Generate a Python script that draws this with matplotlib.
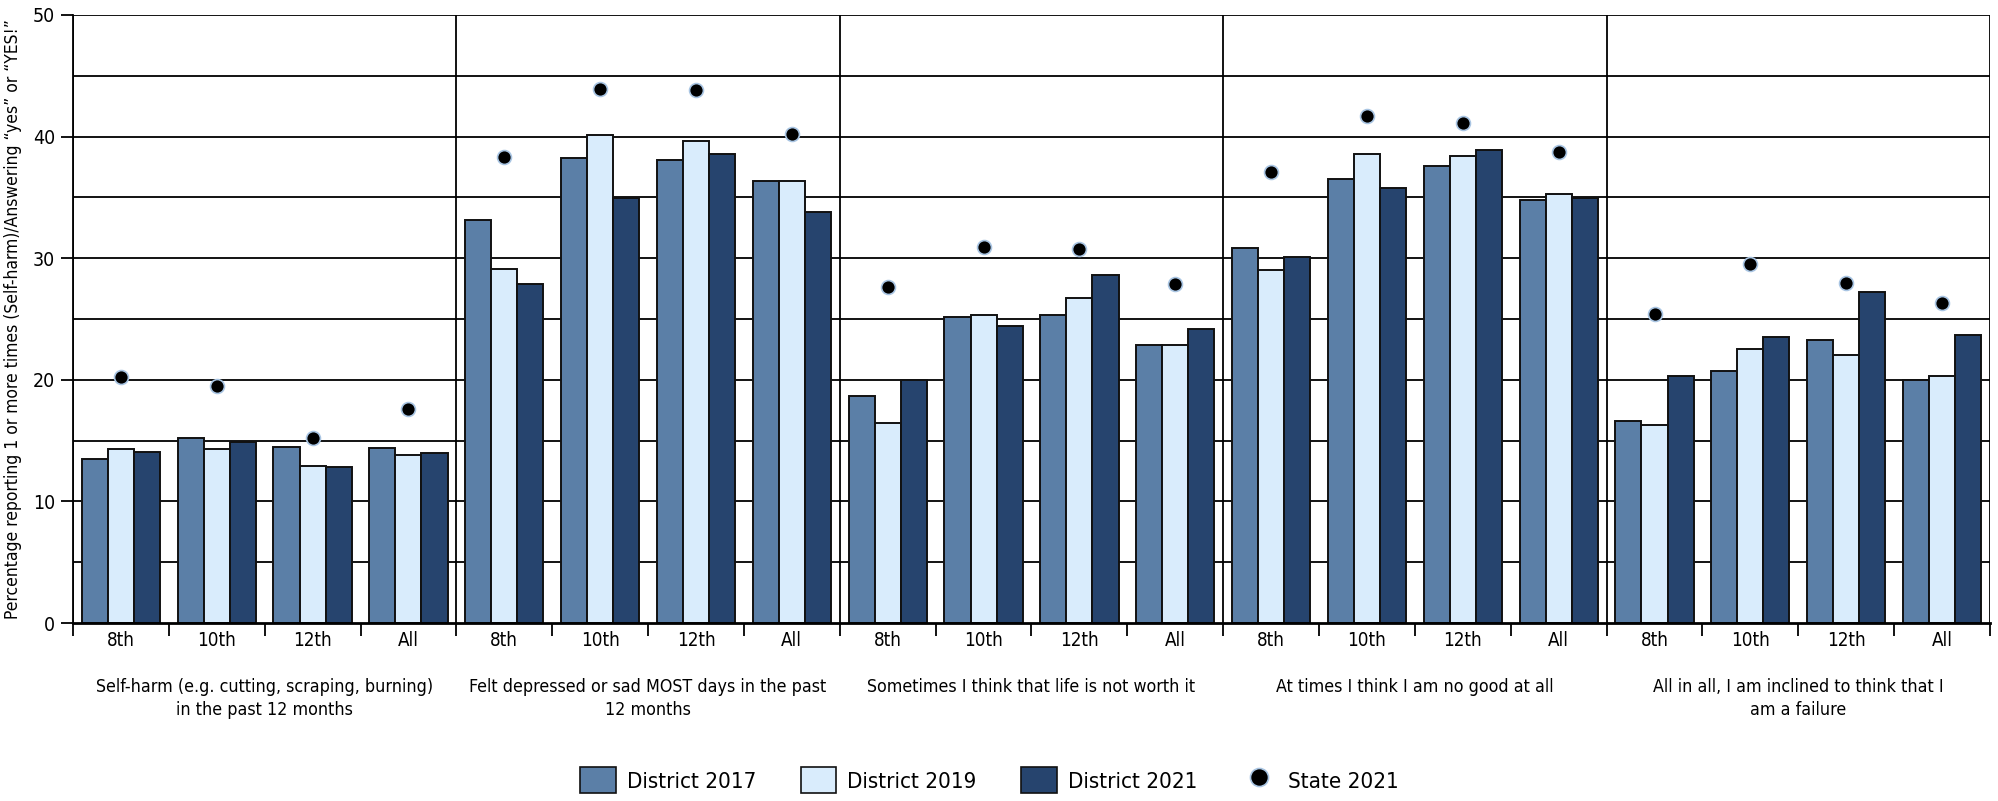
import matplotlib.pyplot as plt
from matplotlib.patches import Patch
from matplotlib.lines import Line2D
import numpy as np

# ==== Dados ====
grupos = [
    "Self-harm (e.g. cutting, scraping, burning)\nin the past 12 months",
    "Felt depressed or sad MOST days in the past\n12 months",
    "Sometimes I think that life is not worth it",
    "At times I think I am no good at all",
    "All in all, I am inclined to think that I\nam a failure",
]
series_anos = ["8th", "10th", "12th", "All"]

district_2017 = [13.5, 15.2, 14.5, 14.4,
                 33.1, 38.2, 38.05, 36.35,
                 18.7, 25.2, 25.3, 22.9,
                 30.8, 36.5, 37.6, 34.8,
                 16.65, 20.7, 23.25, 20.0]
district_2019 = [14.3, 14.3, 12.9, 13.8,
                 29.1, 40.1, 39.6, 36.35,
                 16.45, 25.3, 26.75, 22.9,
                 29.0, 38.6, 38.4, 35.3,
                 16.3, 22.5, 22.0, 20.3]
district_2021 = [14.05, 14.9, 12.8, 13.95,
                 27.9, 34.95, 38.6, 33.8,
                 20.0, 24.4, 28.6, 24.2,
                 30.1, 35.8, 38.9, 34.95,
                 20.3, 23.55, 27.2, 23.7]
state_2021 = [20.2, 19.5, 15.2, 17.6,
              38.3, 43.9, 43.8, 40.2,
              27.6, 30.9, 30.75, 27.9,
              37.1, 41.7, 41.1, 38.7,
              25.4, 29.5, 28.0, 26.3]

cores = ["#5b7fa7", "#d9ecfc", "#26446e"]
rotulos = ["District 2017", "District 2019", "District 2021"]

plt.rcParams['font.family'] = ['DejaVu Sans']
plt.rcParams['font.stretch'] = 'condensed'

fig = plt.figure(figsize=(19.99, 8.01), dpi=100)
ax = fig.add_axes([0.0365, 0.2222, 0.959, 0.7591])

n = len(district_2017)
x = np.arange(n) + 0.5
w = 0.272

# grade horizontal a cada 5
for yv in range(5, 55, 5):
    ax.axhline(yv, color="black", lw=1.3, zorder=0)

for k, (vals, cor) in enumerate(zip([district_2017, district_2019, district_2021], cores)):
    ax.bar(x + (k - 1) * w, vals, width=w, color=cor, edgecolor="#111111",
           linewidth=1.4, zorder=2)

ax.plot(x, state_2021, "o", ms=10, color="black", markeredgecolor="#a9c5e3",
        markeredgewidth=1.2, zorder=3, clip_on=False)

# separadores dos grupos
for g in range(len(grupos) + 1):
    ax.axvline(g * 4, color="black", lw=1.3, zorder=1)

ax.set_xlim(0, n)
ax.set_ylim(0, 50)
ax.set_yticks(range(0, 60, 10))
ax.tick_params(axis="y", length=9, width=1.3, labelsize=14, pad=4)

ax.set_xticks(range(0, n + 1))
ax.set_xticklabels([])
ax.tick_params(axis="x", which="major", length=9, width=1.3)
ax.set_xticks(x, minor=True)
ax.set_xticklabels(series_anos * len(grupos), minor=True)
ax.tick_params(axis="x", which="minor", length=0, labelsize=13.5, pad=6)

for s in ["top", "right"]:
    ax.spines[s].set_visible(False)
ax.spines["left"].set_linewidth(1.3)
ax.spines["bottom"].set_linewidth(2)

ax.set_ylabel('Percentage reporting 1 or more times (Self-harm)/Answering \u201cyes\u201d or \u201cYES!\u201d',
              fontsize=12.5, labelpad=8)

for g, nome in enumerate(grupos):
    ax.text(g * 4 + 2, -4.5, nome, ha="center", va="top", fontsize=12.8,
            linespacing=1.4)

handles = [Patch(facecolor=c, edgecolor="#111111", linewidth=1.2) for c in cores]
handles.append(Line2D([], [], marker="o", ls="", color="black", ms=13,
                      markeredgecolor="#a9c5e3", markeredgewidth=1.2))
fig.legend(handles, rotulos + ["State 2021"], loc="center", ncol=4,
           bbox_to_anchor=(0.495, 0.026), frameon=False, fontsize=16,
           handlelength=1.6, handleheight=1.4, columnspacing=2.0, handletextpad=0.5)

fig.savefig("out.png", dpi=100)
